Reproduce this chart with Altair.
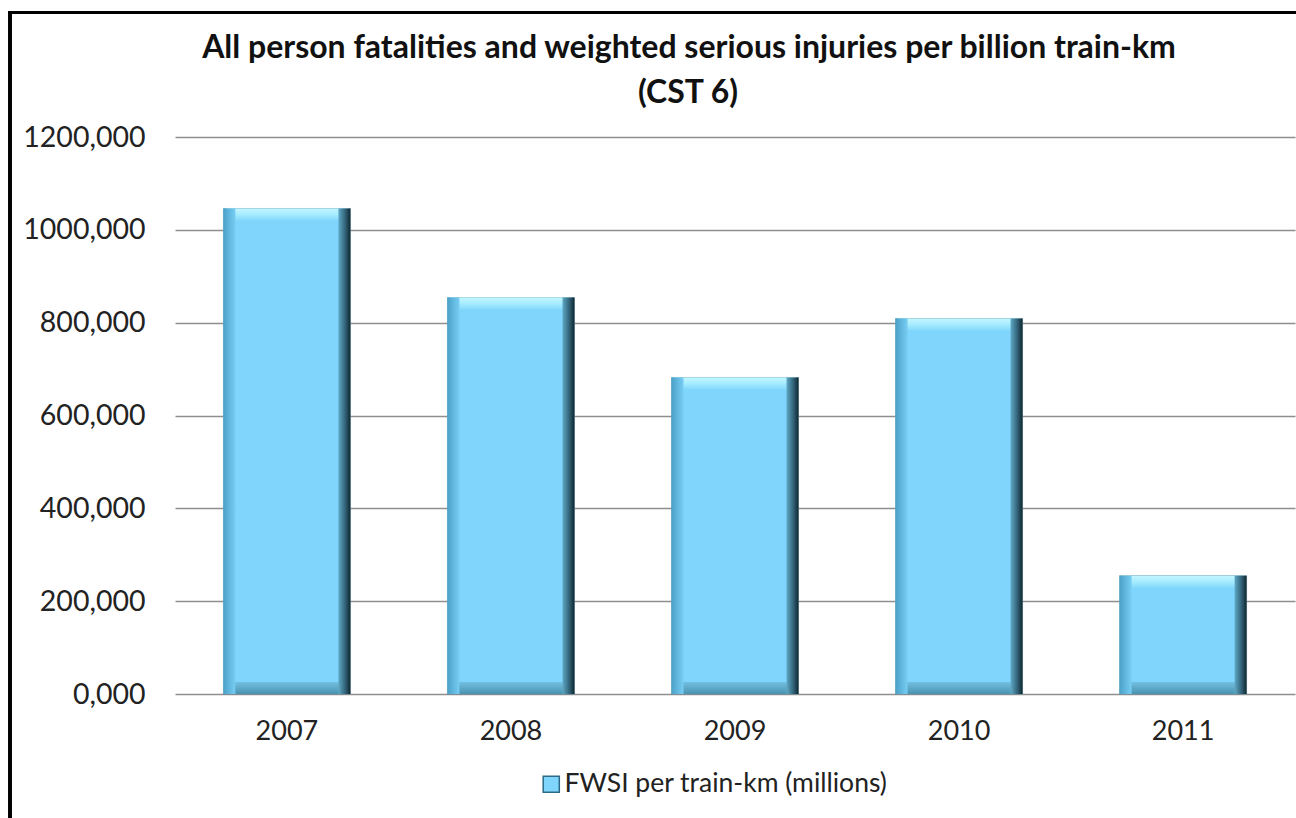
import altair as alt
import pandas as pd

# FWSI per billion train-km, by year
years = ["2007", "2008", "2009", "2010", "2011"]
fwsi = [1046, 854, 682, 809, 255]
series_name = "FWSI per train-km (millions)"
y_ticks = [0, 200, 400, 600, 800, 1000, 1200]
title_lines = ["All person fatalities and weighted serious injuries per billion train-km",
               "(CST 6)"]

df = pd.DataFrame({"year": years, "value": fwsi, "series": [series_name] * len(years)})

FONT = "Lato"
PLOT_W, PLOT_H = 1120, 557
BAR_W = 127
BEVEL = 12

x_scale = alt.Scale(paddingInner=0.433, paddingOuter=0.216)
y_scale = alt.Scale(domain=[0, 1200], nice=False)

x_enc = alt.X("year:N", scale=x_scale, title=None,
              axis=alt.Axis(labelAngle=0, labelFontSize=27, labelFont=FONT,
                            labelColor="#222222", labelPadding=24,
                            domain=False, ticks=False))
y_enc = alt.Y("value:Q", scale=y_scale, title=None,
              axis=alt.Axis(values=y_ticks, labelFontSize=28.5, labelFont=FONT,
                            labelColor="#222222", labelPadding=30,
                            labelExpr="replace(format(datum.value, '.3f'), '.', ',')",
                            domain=False, ticks=False, grid=True,
                            gridColor="#8e8e8e", gridWidth=1.3))

base = alt.Chart(df)

bars = base.mark_bar(width=BAR_W, stroke="#5a8fa5", strokeWidth=0.6).encode(
    x=x_enc,
    y=y_enc,
    color=alt.Color("series:N", title=None,
                    scale=alt.Scale(range=["#7fd5fc"]),
                    legend=alt.Legend(orient="none", legendX=363, legendY=634,
                                      symbolType="square", symbolSize=260,
                                      symbolStrokeColor="#2d6a85", symbolStrokeWidth=1.5,
                                      labelOffset=0,
                                      labelFont=FONT, labelFontSize=26.5,
                                      labelColor="#222222", labelLimit=500)),
)

# bevel strips: top highlight, bottom shade, left and right edges
top_bevel = base.mark_bar(
    width=BAR_W - 4, y2Offset=BEVEL,
    color=alt.Gradient(gradient="linear", x1=0, x2=0, y1=0, y2=1,
                       stops=[alt.GradientStop(offset=0, color="#c4f6ff"),
                              alt.GradientStop(offset=0.5, color="#a6ecff"),
                              alt.GradientStop(offset=1, color="#84d8fc")])
).encode(x="year:N", y="value:Q", y2="value:Q")

bottom_bevel = base.mark_bar(
    width=BAR_W - 4, yOffset=-BEVEL,
    color=alt.Gradient(gradient="linear", x1=0, x2=0, y1=0, y2=1,
                       stops=[alt.GradientStop(offset=0, color="#72c0e2"),
                              alt.GradientStop(offset=1, color="#4a93b0")])
).encode(x="year:N", y=alt.datum(0), y2=alt.datum(0))

left_bevel = base.mark_bar(
    width=BEVEL, xOffset=-(BAR_W / 2 - BEVEL / 2),
    color=alt.Gradient(gradient="linear", x1=0, x2=1, y1=0, y2=0,
                       stops=[alt.GradientStop(offset=0, color="#4aa2c8"),
                              alt.GradientStop(offset=1, color="#78cdf3")])
).encode(x="year:N", y="value:Q", y2=alt.datum(0))

right_bevel = base.mark_bar(
    width=BEVEL, xOffset=(BAR_W / 2 - BEVEL / 2),
    color=alt.Gradient(gradient="linear", x1=0, x2=1, y1=0, y2=0,
                       stops=[alt.GradientStop(offset=0, color="#5fa9c6"),
                              alt.GradientStop(offset=0.6, color="#2f5f74"),
                              alt.GradientStop(offset=1, color="#12252e")])
).encode(x="year:N", y="value:Q", y2=alt.datum(0))

# two-line chart title
title_1 = alt.Chart(pd.DataFrame({"t": [title_lines[0]]})).mark_text(
    font=FONT, fontSize=32, fontWeight="bold", color="#111111",
    align="center", baseline="middle"
).encode(text="t:N", x=alt.value(514), y=alt.value(-89))
title_2 = alt.Chart(pd.DataFrame({"t": [title_lines[1]]})).mark_text(
    font=FONT, fontSize=32, fontWeight="bold", color="#111111",
    align="center", baseline="middle"
).encode(text="t:N", x=alt.value(513), y=alt.value(-44))

# outer frame of the chart area (left and top edges)
frame_left = base.mark_rule(color="#000000", strokeWidth=3).encode(
    x=alt.value(-165), y=alt.value(-125), y2=alt.value(700))
frame_top = base.mark_rule(color="#000000", strokeWidth=3).encode(
    x=alt.value(-166.5), x2=alt.value(1130), y=alt.value(-124.5))

chart = alt.layer(
    bars, top_bevel, bottom_bevel, left_bevel, right_bevel,
    title_1, title_2, frame_left, frame_top
).properties(
    width=PLOT_W,
    height=PLOT_H,
    autosize=alt.AutoSizeParams(type="none"),
    padding={"left": 175, "top": 137, "right": 1, "bottom": 124},
    background="#ffffff",
).configure_view(stroke=None)

chart.save("out.html", embed_options={"renderer": "svg", "actions": False})
